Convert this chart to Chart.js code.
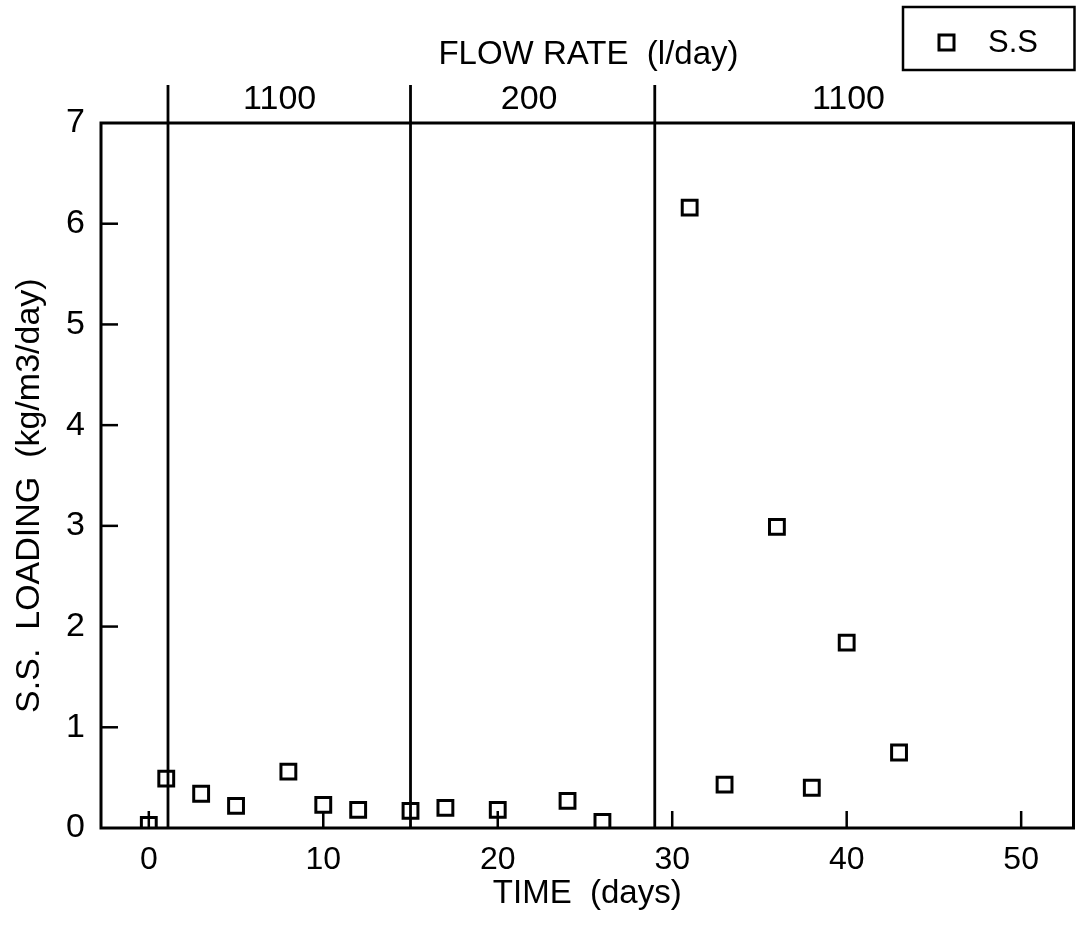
<!DOCTYPE html>
<html>
<head>
<meta charset="utf-8">
<script src="https://cdn.jsdelivr.net/npm/chart.js@4.4.0/dist/chart.umd.min.js"></script>
<style>
  html, body { margin: 0; padding: 0; background: #fff; }
</style>
</head>
<body>
<canvas id="chart" width="1087" height="925"></canvas>
<script>
// data
const days = [0, 1, 3, 5, 8, 10, 12, 15, 17, 20, 24, 26, 31, 33, 36, 38, 40, 43];
const ssLoading = [0.03, 0.49, 0.34, 0.22, 0.56, 0.23, 0.18, 0.17, 0.20, 0.18, 0.27, 0.06, 6.16, 0.43, 2.99, 0.40, 1.84, 0.75];
const xTicks = [0, 10, 20, 30, 40, 50];
const yTicks = [0, 1, 2, 3, 4, 5, 6, 7];
const flowChanges = [1.1, 15, 29];          // days where the flow rate was changed
const flowRates = ['1100', '200', '1100'];

const FONT = '"Liberation Sans", Arial, sans-serif';

const overlay = {
  id: 'overlay',
  afterDraw(chart, args, opts) {
    const { ctx, chartArea: a, scales: { x, y } } = chart;
    ctx.save();
    ctx.strokeStyle = '#000';
    ctx.fillStyle = '#000';

    // frame
    ctx.lineWidth = 3;
    ctx.strokeRect(a.left, a.top, a.right - a.left, a.bottom - a.top);

    // inward tick marks
    ctx.lineWidth = 2.5;
    y.ticks.forEach(t => {
      if (t.value <= y.min || t.value >= y.max) return;
      const py = y.getPixelForValue(t.value);
      ctx.beginPath();
      ctx.moveTo(a.left, py);
      ctx.lineTo(a.left + 17, py);
      ctx.stroke();
    });
    x.ticks.forEach(t => {
      const px = x.getPixelForValue(t.value);
      ctx.beginPath();
      ctx.moveTo(px, a.bottom);
      ctx.lineTo(px, a.bottom - 17);
      ctx.stroke();
    });

    // flow rate change lines, poking above the frame
    ctx.lineWidth = 2.8;
    flowChanges.forEach(d => {
      const px = x.getPixelForValue(d);
      ctx.beginPath();
      ctx.moveTo(px, a.bottom);
      ctx.lineTo(px, a.top - 38);
      ctx.stroke();
    });

    // flow rate labels
    ctx.font = '34px ' + FONT;
    ctx.textAlign = 'center';
    ctx.textBaseline = 'middle';
    flowRates.forEach((r, i) => {
      ctx.fillText(r, x.getPixelForValue(opts.labelAt[i]), a.top - 23);
    });
    ctx.font = '33px ' + FONT;
    ctx.fillText('FLOW RATE  (l/day)', x.getPixelForValue(25.2), a.top - 68);

    // y axis title (placed by hand, it sits a bit below the middle)
    ctx.save();
    ctx.translate(30, y.getPixelForValue(3.3));
    ctx.rotate(-Math.PI / 2);
    ctx.font = '34px ' + FONT;
    ctx.fillText('S.S.  LOADING  (kg/m3/day)', 0, 0);
    ctx.restore();

    // legend
    ctx.lineWidth = 2.5;
    ctx.strokeRect(903, 7, a.right + 1 - 903, 63);
    ctx.lineWidth = 3;
    ctx.strokeRect(939, 35, 15, 15);
    ctx.font = '31px ' + FONT;
    ctx.textAlign = 'left';
    ctx.fillText('S.S', 988, 43);

    ctx.restore();
  }
};

new Chart(document.getElementById('chart'), {
  type: 'scatter',
  data: {
    datasets: [{
      label: 'S.S',
      data: days.map((d, i) => ({ x: d, y: ssLoading[i] })),
      pointStyle: 'rect',
      pointRadius: 10.5,
      pointBorderWidth: 3,
      borderColor: '#000',
      backgroundColor: 'rgba(0,0,0,0)'
    }]
  },
  options: {
    responsive: false,
    animation: false,
    layout: { padding: { top: 123, right: 10, left: 0, bottom: 0 } },
    plugins: {
      legend: { display: false },
      tooltip: { enabled: false },
      overlay: { labelAt: [7.5, 21.8, 40.1] }
    },
    scales: {
      x: {
        type: 'linear',
        min: -2.74,
        max: 53,
        afterBuildTicks: s => { s.ticks = xTicks.map(v => ({ value: v })); },
        afterFit: s => { s.height = 97; },
        grid: { display: false, drawTicks: false },
        border: { display: false },
        ticks: { color: '#000', font: { family: FONT, size: 32 }, padding: 13 },
        title: {
          display: true,
          text: 'TIME  (days)',
          color: '#000',
          font: { family: FONT, size: 33 },
          padding: { top: 0, bottom: 11 }
        }
      },
      y: {
        min: 0,
        max: 7,
        afterBuildTicks: s => { s.ticks = yTicks.map(v => ({ value: v })); },
        afterFit: s => { s.width = 101; },
        grid: { display: false, drawTicks: false },
        border: { display: false },
        ticks: { color: '#000', font: { family: FONT, size: 34 }, padding: 16 },
        title: { display: false }
      }
    }
  },
  plugins: [overlay]
});
</script>
</body>
</html>
